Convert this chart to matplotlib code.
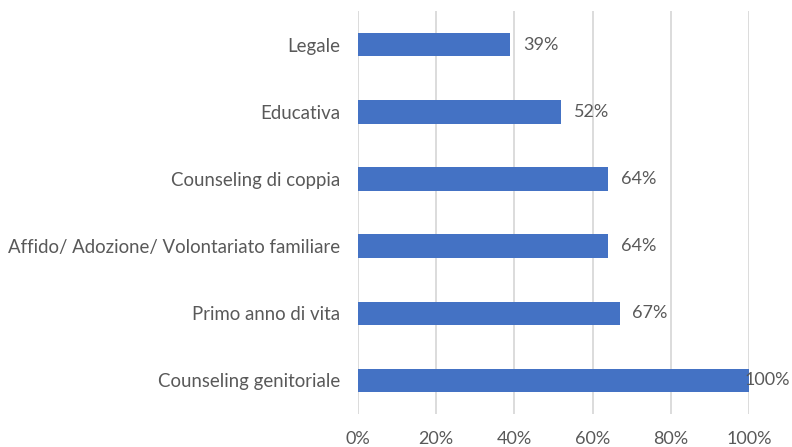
import matplotlib
matplotlib.use("Agg")
import matplotlib.pyplot as plt
from matplotlib.ticker import FuncFormatter

categories = ["Counseling genitoriale", "Primo anno di vita",
              "Affido/ Adozione/ Volontariato familiare", "Counseling di coppia",
              "Educativa", "Legale"]
values = [100, 67, 64, 64, 52, 39]
xticks = [0, 20, 40, 60, 80, 100]

plt.rcParams['font.family'] = ['Lato', 'DejaVu Sans']
text_color = '#595959'

fig = plt.figure(figsize=(7.92, 4.47), dpi=100)
ax = fig.add_axes([0.452, 0.0738, 0.4937, 0.9016])
y = list(range(len(categories)))
ax.barh(y, values, height=0.35, color='#4472C4', zorder=3)
ax.set_ylim(-0.5, len(categories) - 0.5)
ax.set_xlim(0, 100)
ax.set_xticks(xticks)
ax.xaxis.set_major_formatter(FuncFormatter(lambda v, p: f"{int(v)}%"))
ax.set_yticks(y)
ax.set_yticklabels(categories)
ax.tick_params(axis='both', length=0, labelsize=13, colors=text_color)
ax.tick_params(axis='y', labelsize=13.4)
ax.tick_params(axis='x', pad=12)
ax.tick_params(axis='y', pad=13)
ax.grid(axis='x', color='#D9D9D9', linewidth=1.3, zorder=0)
for s in ax.spines.values():
    s.set_visible(False)

for yi, v in zip(y, values):
    off = 9 if v < 100 else -3
    ax.annotate(f"{v}%", xy=(v, yi), xytext=(off, 0), textcoords='offset points',
                va='center', ha='left', fontsize=13, color=text_color, zorder=4,
                annotation_clip=False)

fig.savefig("out.png", dpi=100)
